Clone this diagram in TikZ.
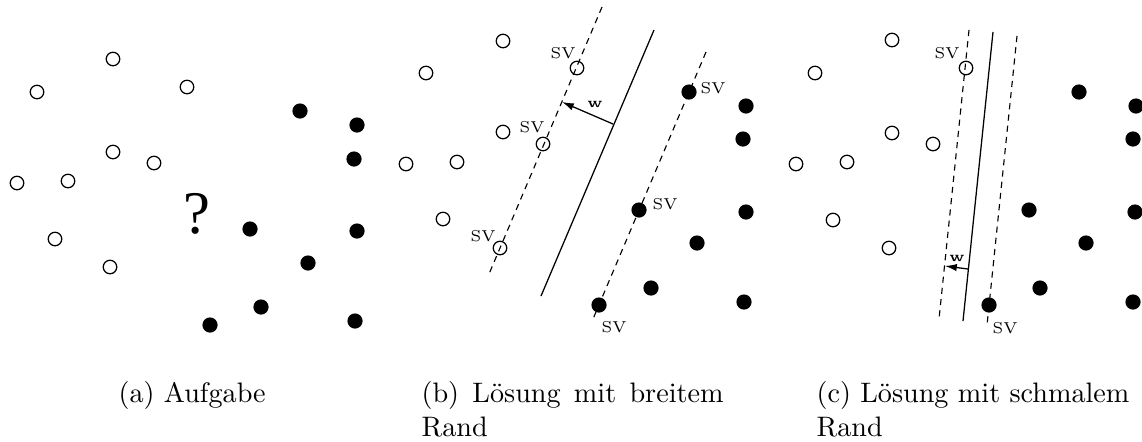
\documentclass[tikz,border=0pt]{standalone}
\usepackage{fontspec}
\newfontfamily\qfont{Liberation Serif}
\usetikzlibrary{arrows.meta}
\begin{document}
\begin{tikzpicture}[x=0.355pt,y=-0.355pt,
  opn/.style={circle,draw,line width=0.45pt,minimum size=4.8pt,inner sep=0pt},
  fil/.style={circle,fill,minimum size=5.4pt,inner sep=0pt},
  sv/.style={font=\fontsize{5.6}{6.5}\selectfont,inner sep=0pt},
  wl/.style={font=\fontsize{5}{6}\selectfont\bfseries,inner sep=0pt},
  hyper/.style={line width=0.45pt},
  margin/.style={line width=0.4pt,dash pattern=on 2.2pt off 1.8pt},
  wvec/.style={line width=0.45pt,-{Latex[length=4.2pt,width=2.6pt]}},
  captext/.style={font=\fontsize{10}{12.4}\selectfont,inner sep=0pt,anchor=base west}]
\useasboundingbox (0,0) rectangle (1142,441);

% ---------- (a) ----------
\node[opn] (a1) at (113,59) {};
\node[opn] (a2) at (37,92) {};
\node[opn] (a3) at (187,87) {};
\node[opn] (a4) at (113,152) {};
\node[opn] (a5) at (154,163) {};
\node[opn] (a6) at (17,183) {};
\node[opn] (a7) at (68,181) {};
\node[opn] (a8) at (55,239) {};
\node[opn] (a9) at (110,267) {};
\node[fil] (af1) at (300,111) {};
\node[fil] (af2) at (357,125) {};
\node[fil] (af3) at (354,159) {};
\node[fil] (af4) at (250,229) {};
\node[fil] (af5) at (357,231) {};
\node[fil] (af6) at (308,263) {};
\node[fil] (af7) at (261,307) {};
\node[fil] (af8) at (210,325) {};
\node[fil] (af9) at (355,321) {};
\node[inner sep=0pt,anchor=base,font=\qfont\fontsize{21.5}{24}\selectfont] (q) at (197,233) {?};

% ---------- (b) ----------
\node[opn] (b1) at (503,41) {};
\node[opn] (b2) at (426,73) {};
\node[opn] (b3) at (503,132) {};
\node[opn] (b4) at (406,164) {};
\node[opn] (b5) at (457,162) {};
\node[opn] (b6) at (443,219) {};
\node[opn] (bs1) at (577,68) {};
\node[opn] (bs2) at (543,144) {};
\node[opn] (bs3) at (500,248) {};
\node[fil] (bs4) at (689,92) {};
\node[fil] (bf2) at (746,106) {};
\node[fil] (bf3) at (743,139) {};
\node[fil] (bs5) at (639,210) {};
\node[fil] (bf5) at (746,212) {};
\node[fil] (bf6) at (697,243) {};
\node[fil] (bf7) at (651,288) {};
\node[fil] (bf8) at (744,302) {};
\node[fil] (bs6) at (599,305) {};

\coordinate (bl1) at (602,7);   \coordinate (bl2) at (489,274);
\coordinate (bh1) at (654,30);  \coordinate (bh2) at (541,296);
\coordinate (br1) at (706,52);  \coordinate (br2) at (593,319);
\draw[margin] (bl1) -- (bl2);
\draw[hyper] (bh1) -- (bh2);
\draw[margin] (br1) -- (br2);
\coordinate (bw0) at (613,124);
\coordinate (bw1) at (562,102);
\draw[wvec] (bw0) -- (bw1);
\node[wl] (bwl) at (595,104) {w};

\node[sv] (bsv1) at (563,53) {SV};
\node[sv] (bsv2) at (532,127) {SV};
\node[sv] (bsv3) at (483,236) {SV};
\node[sv] (bsv4) at (713,88) {SV};
\node[sv] (bsv5) at (665,204) {SV};
\node[sv] (bsv6) at (614,327) {SV};

% ---------- (c) ----------
\node[opn] (c1) at (892,40) {};
\node[opn] (c2) at (815,73) {};
\node[opn] (c3) at (892,133) {};
\node[opn] (c4) at (933,144) {};
\node[opn] (c5) at (796,164) {};
\node[opn] (c6) at (847,162) {};
\node[opn] (c7) at (833,220) {};
\node[opn] (c8) at (889,248) {};
\node[opn] (cs1) at (966,68) {};
\node[fil] (cf1) at (1079,92) {};
\node[fil] (cf2) at (1136,106) {};
\node[fil] (cf3) at (1133,139) {};
\node[fil] (cf4) at (1029,210) {};
\node[fil] (cf5) at (1135,212) {};
\node[fil] (cf6) at (1086,243) {};
\node[fil] (cf7) at (1040,288) {};
\node[fil] (cf8) at (1133,302) {};
\node[fil] (cs2) at (989,305) {};

\coordinate (cl1) at (969,30);   \coordinate (cl2) at (939,319);
\coordinate (ch1) at (993,32);   \coordinate (ch2) at (963,321);
\coordinate (cr1) at (1017,36);  \coordinate (cr2) at (987,325);
\draw[margin] (cl1) -- (cl2);
\draw[hyper] (ch1) -- (ch2);
\draw[margin] (cr1) -- (cr2);
\coordinate (cw0) at (968,269);
\coordinate (cw1) at (945,266);
\draw[wvec] (cw0) -- (cw1);
\node[wl] (cwl) at (957,258) {w};

\node[sv] (csv1) at (947,53) {SV};
\node[sv] (csv2) at (1005,328) {SV};

% ---------- captions ----------
\node[captext] (capa) at (118,402) {(a) Aufgabe};
\node[captext] (capb1) at (421,402) {\makebox[107.2pt][s]{(b) Lösung mit breitem}};
\node[captext] (capb2) at (421,436) {Rand};
\node[captext] (capc1) at (816,402) {(c) Lösung mit schmalem};
\node[captext] (capc2) at (816,436) {Rand};
\end{tikzpicture}
\end{document}
